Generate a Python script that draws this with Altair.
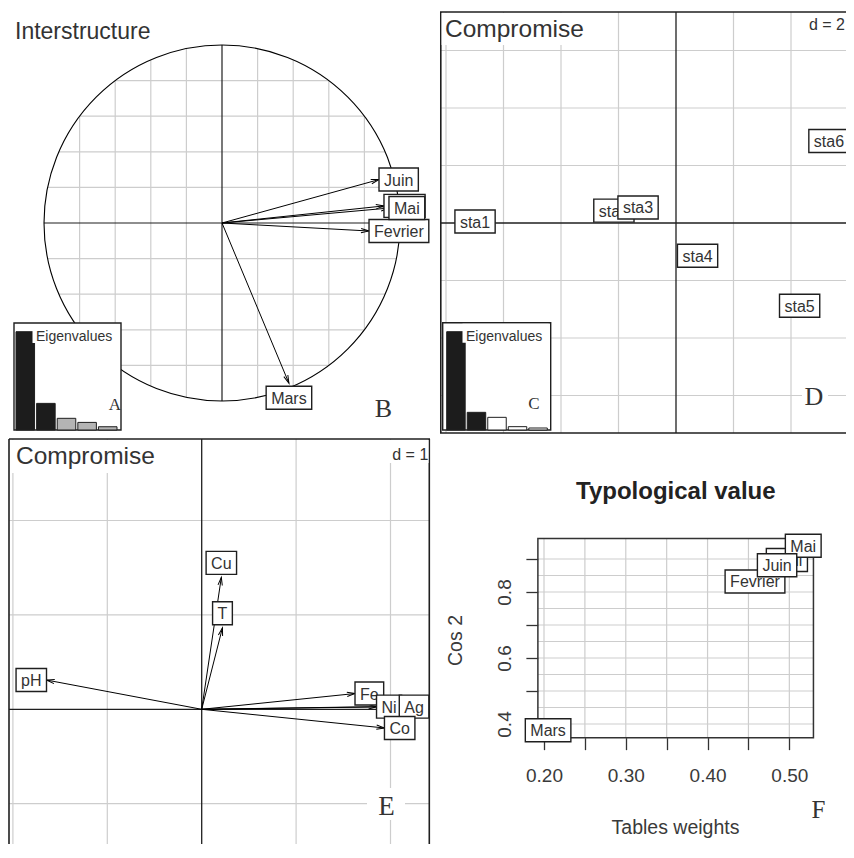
import math
import numpy as np
import pandas as pd
import altair as alt

# ----------------------------------------------------------------- data
# B - Interstructure: one vector per table (month)
months = ["Fevrier", "Mars", "Avril", "Mai", "Juin"]
inter_x = [0.826, 0.376, 0.910, 0.938, 0.882]
inter_y = [-0.045, -0.900, 0.096, 0.084, 0.244]
inter_eigen = [3.62, 0.98, 0.43, 0.28, 0.12]

# D - Compromise, rows (stations)
stations = ["sta1", "sta2", "sta3", "sta4", "sta5", "sta6"]
sta_x = [-6.99, -2.16, -1.32, 0.75, 4.30, 5.32]
sta_y = [0.05, 0.43, 0.54, -1.14, -2.88, 2.85]
comp_eigen = [2.95, 0.53, 0.38, 0.10, 0.06]

# E - Compromise, columns (variables)
variables = ["T", "pH", "Cu", "Fe", "Ni", "Ag", "Co"]
var_x = [0.220, -1.644, 0.208, 1.624, 1.852, 2.093, 1.936]
var_y = [0.864, 0.310, 1.398, 0.167, 0.028, 0.028, -0.198]

# F - Typological value
tab_weight = [0.458, 0.205, 0.497, 0.517, 0.485]
tab_cos2 = [0.832, 0.381, 0.897, 0.940, 0.881]

# tick / grid values
f_x_ticks = [0.20, 0.25, 0.30, 0.35, 0.40, 0.45, 0.50]
f_y_ticks = [0.4, 0.5, 0.6, 0.7, 0.8, 0.9]
f_y_grid = [0.40, 0.45, 0.50, 0.55, 0.60, 0.65, 0.70, 0.75, 0.80, 0.85, 0.90]
b_grid = [-0.8, -0.6, -0.4, -0.2, 0.2, 0.4, 0.6, 0.8]
d_grid_x = [-8, -6, -4, -2, 2, 4, 6]
d_grid_y = [-6, -4, -2, 2, 4, 6]
e_grid_x = [-2, -1, 1, 2]
e_grid_y = [-1, 1, 2]

# ----------------------------------------------------------------- style
FONT = "Liberation Sans"
SERIF = "Liberation Serif"
INK = "#333333"
EDGE = "#1f1f1f"
GRID = "#cdcdcd"
LABEL_SIZE = 16
BOX_PAD = 10
BOX_H = 23
VIEW_W, VIEW_H = 838, 836

ARIAL = {" ": 278, "A": 667, "C": 722, "F": 611, "H": 722, "J": 500, "M": 833,
         "N": 722, "T": 611, "a": 556, "c": 500, "e": 556, "g": 556, "i": 222,
         "l": 222, "n": 556, "o": 556, "p": 556, "r": 333, "s": 500, "t": 278,
         "u": 556, "v": 500}


def tw(s, size=LABEL_SIZE):
    return sum(ARIAL.get(c, 556) for c in s) * size / 1000.0


one = pd.DataFrame({"k": [0]})


def clean(**kw):
    return {k: v for k, v in kw.items() if v is not None}


def panel(x0, y0, W, H, xdom, ydom, xaxis=None, yaxis=None):
    return dict(x0=x0, y0=y0, W=W, H=H, xdom=xdom, ydom=ydom,
                xs=alt.Scale(domain=xdom, range=[x0, x0 + W], nice=False, zero=False),
                ys=alt.Scale(domain=ydom, range=[y0 + H, y0], nice=False, zero=False),
                ppx=W / (xdom[1] - xdom[0]), ppy=H / (ydom[1] - ydom[0]),
                xa=xaxis, ya=yaxis)


def enc(P, x, y, x2=None, y2=None):
    e = dict(x=alt.X(x, type="quantitative", scale=P["xs"], axis=P["xa"]),
             y=alt.Y(y, type="quantitative", scale=P["ys"], axis=P["ya"]))
    if x2:
        e["x2"] = alt.X2(x2)
    if y2:
        e["y2"] = alt.Y2(y2)
    return e


def data_rules(P, df, color, width):
    return alt.Chart(df).mark_rule(color=color, strokeWidth=width).encode(
        **enc(P, "x", "y", "x2", "y2"))


def px_rect(P, x, x2, y, y2, fill="white", stroke=None, sw=None):
    return alt.Chart(one).mark_rect(**clean(fill=fill, stroke=stroke, strokeWidth=sw)).encode(
        x=alt.value(P["x0"] + x), x2=alt.value(P["x0"] + x2),
        y=alt.value(P["y0"] + y), y2=alt.value(P["y0"] + y2))


def px_hrule(P, x, x2, y, color=EDGE, width=1.6):
    return alt.Chart(one).mark_rule(color=color, strokeWidth=width).encode(
        x=alt.value(P["x0"] + x), x2=alt.value(P["x0"] + x2), y=alt.value(P["y0"] + y))


def px_vrule(P, x, y, y2, color=EDGE, width=1.6):
    return alt.Chart(one).mark_rule(color=color, strokeWidth=width).encode(
        x=alt.value(P["x0"] + x), y=alt.value(P["y0"] + y), y2=alt.value(P["y0"] + y2))


def px_text(P, s, x, y, size, font=FONT, align="left", weight=None, color=INK):
    return alt.Chart(one).mark_text(**clean(text=s, font=font, fontSize=size, align=align,
                                            baseline="alphabetic", fontWeight=weight,
                                            color=color)).encode(
        x=alt.value(P["x0"] + x), y=alt.value(P["y0"] + y))


def label_layers(P, names, cx, cy, size=LABEL_SIZE):
    layers = []
    for n, x, y in zip(names, cx, cy):
        hw = (tw(n, size) + BOX_PAD) / 2.0 / P["ppx"]
        hh = BOX_H / 2.0 / P["ppy"]
        d = pd.DataFrame({"lab": [n], "x": [x], "y": [y], "x1": [x - hw], "x2": [x + hw],
                          "y1": [y - hh], "y2": [y + hh]})
        layers.append(alt.Chart(d).mark_rect(fill="white", stroke=EDGE, strokeWidth=1.4).encode(
            **enc(P, "x1", "y1", "x2", "y2")))
        layers.append(alt.Chart(d).mark_text(font=FONT, fontSize=size, color=INK,
                                             baseline="middle", dy=1).encode(
            text="lab:N", **enc(P, "x", "y")))
    return layers


HEAD = "M-1,-0.27L0,0L-1,0.27"


def arrow_layers(P, xs, ys):
    d = pd.DataFrame({"x": [0.0] * len(xs), "y": [0.0] * len(xs), "x2": xs, "y2": ys})
    d["ang"] = (-np.degrees(np.arctan2(d["y2"] * P["ppy"], d["x2"] * P["ppx"]))) % 360
    shafts = alt.Chart(d).mark_rule(color="black", strokeWidth=1).encode(**enc(P, "x", "y", "x2", "y2"))
    heads = alt.Chart(d).mark_point(shape=HEAD, size=256, filled=False, color="black",
                                    strokeWidth=1, opacity=1).encode(
        angle=alt.Angle("ang:Q", scale=None), **enc(P, "x2", "y2"))
    return [shafts, heads]


def arrow_label_centers(P, names, xs, ys, shift=14.5):
    cx, cy = [], []
    for n, x, y in zip(names, xs, ys):
        half = (tw(n) + BOX_PAD) / 2.0
        if x > y and x > -y:
            cx.append(x + half / P["ppx"]); cy.append(y)
        elif x > y:
            cx.append(x); cy.append(y - shift / P["ppy"])
        elif x <= -y:
            cx.append(x - half / P["ppx"]); cy.append(y)
        else:
            cx.append(x); cy.append(y + shift / P["ppy"])
    return cx, cy


def eigen_inset(P, values, rest_fill, box, bar_x, bar_top, bottom, txt_x, letter, letter_x, letter_y):
    d = pd.DataFrame({"axis": [str(i + 1) for i in range(len(values))], "ev": values})
    d["fill"] = ["#1c1c1c" if i < 2 else rest_fill for i in range(len(values))]
    layers = [px_rect(P, box[0], box[1], box[2], box[3], fill="white", stroke=EDGE, sw=1.4)]
    layers.append(alt.Chart(d).mark_bar(stroke=EDGE, strokeWidth=1).encode(
        x=alt.X("axis:O", sort=None, axis=None,
                scale=alt.Scale(range=[P["x0"] + bar_x[0], P["x0"] + bar_x[1]],
                                paddingInner=0.1, paddingOuter=0)),
        y=alt.Y("ev:Q", axis=None,
                scale=alt.Scale(domain=[0, max(values)], range=[P["y0"] + bottom, P["y0"] + bar_top],
                                nice=False, zero=True)),
        fill=alt.Fill("fill:N", scale=None)))
    layers.append(px_rect(P, txt_x - 3.5, box[1] - 2, box[2] + 1, box[2] + 20, fill="white"))
    layers.append(px_text(P, "Eigenvalues", txt_x, box[2] + 18, 14))
    layers.append(px_text(P, letter, letter_x, letter_y, 17, font=SERIF, align="center"))
    return layers


def indep(*layers):
    return alt.layer(*layers).resolve_scale(x="independent", y="independent")


# ================================================================= B
WB, HB = 432, 427
RB = 178.0
PB = panel(0, 0, WB, HB, [-214 / RB, (WB - 214) / RB], [-(HB - 215) / RB, 215 / RB])
hb = [math.sqrt(1 - g * g) for g in b_grid]
b_layers = [
    data_rules(PB, pd.DataFrame({"x": b_grid, "y": [-v for v in hb], "x2": b_grid, "y2": hb}), GRID, 1.2),
    data_rules(PB, pd.DataFrame({"x": [-v for v in hb], "y": b_grid, "x2": hb, "y2": b_grid}), GRID, 1.2),
    data_rules(PB, pd.DataFrame({"x": [-1.0, 0.0], "y": [0.0, -1.0], "x2": [1.0, 0.0], "y2": [0.0, 1.0]}), EDGE, 1.2),
    alt.Chart(pd.DataFrame({"x": [0.0], "y": [0.0]})).mark_point(
        shape="circle", size=(2 * RB) ** 2, filled=False, color="black", strokeWidth=1.1, opacity=1
    ).encode(**enc(PB, "x", "y")),
]
b_layers += arrow_layers(PB, inter_x, inter_y)
bcx, bcy = arrow_label_centers(PB, months, inter_x, inter_y)
b_layers += label_layers(PB, months, bcx, bcy)
b_layers += [px_text(PB, "Interstructure", 7, 30.5, 23),
             px_text(PB, "B", 375.5, 409, 26, font=SERIF, align="center")]
b_inset = eigen_inset(PB, inter_eigen, "#b4b4b4", (6, 113, 315, 422), (8, 109), 323.7, 422, 28,
                      "A", 107, 402)
panel_B = indep(alt.layer(*b_layers), alt.layer(*b_inset))

# ================================================================= D
WD, HD = 414, 427
UD = 28.75
PD = panel(432, 0, WD, HD, [-236 / UD, (WD - 236) / UD], [-(HD - 215) / UD, 215 / UD])
d_top = (215 - 4) / UD
d_bot = -(425 - 215) / UD
d_right = VIEW_W - PD["x0"]          # visible right edge of the panel (px)
d_layers = [
    data_rules(PD, pd.DataFrame({"x": d_grid_x, "y": d_bot, "x2": d_grid_x, "y2": d_top}), GRID, 1.2),
    data_rules(PD, pd.DataFrame({"x": PD["xdom"][0], "y": d_grid_y, "x2": PD["xdom"][1], "y2": d_grid_y}), GRID, 1.2),
    data_rules(PD, pd.DataFrame({"x": [0.0, PD["xdom"][0]], "y": [d_bot, 0.0],
                                 "x2": [0.0, PD["xdom"][1]], "y2": [d_top, 0.0]}), EDGE, 1.3),
    px_hrule(PD, 0, d_right, 4), px_hrule(PD, 0, d_right, 425), px_vrule(PD, 0.8, 4, 425),
    px_rect(PD, 1.6, 150, 5, 37), px_text(PD, "Compromise", 5, 28.7, 24.5),
    px_rect(PD, d_right - 40, d_right, 5, 25), px_text(PD, "d = 2", d_right - 1, 22, 16, align="right"),
]
d_layers += label_layers(PD, stations, sta_x, sta_y)
d_layers += [px_rect(PD, 362, 388, 377, 401), px_text(PD, "D", 374, 397, 26, font=SERIF, align="center")]
d_inset = eigen_inset(PD, comp_eigen, "white", (2.7, 110.7, 314.7, 422), (6.7, 107.3), 323.7, 422, 26,
                      "C", 94, 401)
panel_D = indep(alt.layer(*d_layers), alt.layer(*d_inset))

# ================================================================= E
WE, HE = 422, 423
UE = 94.4
PE = panel(0, 427, WE, HE, [-193.7 / UE, (WE - 193.7) / UE], [-(HE - 274.3) / UE, 274.3 / UE])
e_top = (274.3 - 4) / UE
e_left = (1 - 193.7) / UE
e_layers = [
    data_rules(PE, pd.DataFrame({"x": e_grid_x, "y": PE["ydom"][0], "x2": e_grid_x, "y2": e_top}), GRID, 1.2),
    data_rules(PE, pd.DataFrame({"x": e_left, "y": e_grid_y, "x2": PE["xdom"][1], "y2": e_grid_y}), GRID, 1.2),
    data_rules(PE, pd.DataFrame({"x": [0.0, e_left], "y": [PE["ydom"][0], 0.0],
                                 "x2": [0.0, PE["xdom"][1]], "y2": [e_top, 0.0]}), EDGE, 1.3),
    px_hrule(PE, 1, WE, 4), px_vrule(PE, 1, 4, HE), px_vrule(PE, 421.3, 4, HE),
    px_rect(PE, 2, 152, 5, 38), px_text(PE, "Compromise", 8, 29.3, 24.5),
    px_rect(PE, 378, 420.5, 5, 28), px_text(PE, "d = 1", 420.3, 25, 16, align="right"),
    px_rect(PE, 359, 397, 353, 385), px_text(PE, "E", 378.5, 380, 27, font=SERIF, align="center"),
]
e_layers += arrow_layers(PE, var_x, var_y)
ecx, ecy = arrow_label_centers(PE, variables, var_x, var_y)
e_layers += label_layers(PE, variables, ecx, ecy)
panel_E = alt.layer(*e_layers)

# ================================================================= F
F_X0, F_Y0 = 422, 427
WF, HF = 424, 423
PXF, PYF = 817.8, 330.0
xdF = [0.20 - 114 / PXF, 0.20 + (WF - 114) / PXF]
ydF = [0.4 - (HF - 289) / PYF, 0.9 + 124 / PYF]
sx = max(tab_weight) - min(tab_weight)
sy = max(tab_cos2) - min(tab_cos2)
fx0, fx1 = min(tab_weight) - 0.04 * sx, max(tab_weight) + 0.04 * sx
fy0, fy1 = min(tab_cos2) - 0.04 * sy, max(tab_cos2) + 0.04 * sy
frame_left = F_X0 + (fx0 - xdF[0]) * PXF          # chart px
frame_bottom = F_Y0 + (ydF[1] - fy0) * PYF        # chart px

f_xaxis = alt.Axis(
    orient="bottom", values=f_x_ticks,
    labelExpr="round(datum.value*100) % 10 == 0 ? format(datum.value, '.2f') : ''",
    grid=False, domain=False, ticks=True, tickSize=12, tickColor=INK, tickWidth=1.3,
    labelFont=FONT, labelFontSize=19, labelColor="#3a3a3a", labelBaseline="alphabetic",
    labelPadding=32, labelFlush=False, labelOverlap=False,
    offset=-(VIEW_H - frame_bottom),
    title="Tables weights", titleFont=FONT, titleFontSize=19.5, titleFontWeight="normal",
    titleColor="#3a3a3a", titleX=F_X0 + 245, titleY=F_Y0 + 398 - frame_bottom, titleAlign="center",
    titleBaseline="alphabetic")
f_yaxis = alt.Axis(
    orient="left", values=f_y_ticks,
    labelExpr="round(datum.value*10) % 2 == 0 ? format(datum.value, '.1f') : ''",
    grid=False, domain=False, ticks=True, tickSize=12, tickColor=INK, tickWidth=1.3,
    labelFont=FONT, labelFontSize=19, labelColor="#3a3a3a", labelAngle=270,
    labelAlign="center", labelBaseline="alphabetic", labelPadding=15.3,
    labelFlush=False, labelOverlap=False,
    offset=-frame_left,
    title="Cos 2", titleFont=FONT, titleFontSize=19.5, titleFontWeight="normal",
    titleColor="#3a3a3a", titleAngle=270, titleX=F_X0 + 31.7 - frame_left, titleY=F_Y0 + 205,
    titleAlign="center", titleBaseline="alphabetic")
PF = panel(F_X0, F_Y0, WF, HF, xdF, ydF, f_xaxis, f_yaxis)

f_layers = [
    data_rules(PF, pd.DataFrame({"x": f_x_ticks, "y": fy0, "x2": f_x_ticks, "y2": fy1}), GRID, 1.2),
    data_rules(PF, pd.DataFrame({"x": fx0, "y": f_y_grid, "x2": fx1, "y2": f_y_grid}), GRID, 1.2),
    alt.Chart(pd.DataFrame({"x": [fx0], "y": [fy0], "x2": [fx1], "y2": [fy1]})).mark_rect(
        fill="transparent", stroke=INK, strokeWidth=1.5).encode(**enc(PF, "x", "y", "x2", "y2")),
]
f_layers += label_layers(PF, months, tab_weight, tab_cos2)
f_layers += [px_text(PF, "Typological value", 245.8, 64, 24, weight="bold", align="center", color="#222222"),
             px_text(PF, "F", 388.5, 383, 25, font=SERIF, align="center")]
panel_F = alt.layer(*f_layers)

# ================================================================= compose
chart = indep(panel_B, panel_D, panel_E, panel_F).properties(
    width=VIEW_W, height=VIEW_H, padding=0,
    autosize=alt.AutoSizeParams(type="none"),
).configure_view(stroke="transparent")

chart.save("out.html", embed_options={"renderer": "svg", "actions": False})
